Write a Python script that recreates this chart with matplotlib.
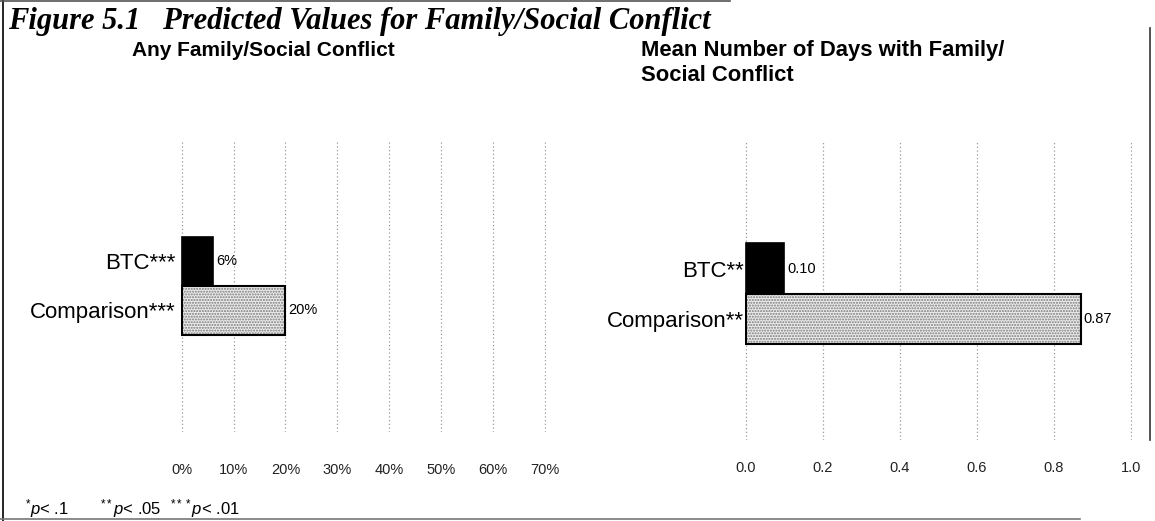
import matplotlib
matplotlib.use("Agg")
import matplotlib.pyplot as plt
from matplotlib.lines import Line2D

plt.rcParams['font.family'] = ['Liberation Sans', 'DejaVu Sans']
plt.rcParams['mathtext.fontset'] = 'custom'
plt.rcParams['mathtext.rm'] = 'Liberation Sans'
plt.rcParams['mathtext.it'] = 'Liberation Sans:italic'

# data
groups = ['BTC', 'Comparison']
any_conflict = [0.06, 0.20]
any_stars = ['***', '***']
any_labels = ['6%', '20%']
mean_days = [0.10, 0.87]
mean_stars = ['**', '**']
mean_labels = ['0.10', '0.87']
any_ticks = [0.0, 0.1, 0.2, 0.3, 0.4, 0.5, 0.6, 0.7]
any_ticklabels = ['0%', '10%', '20%', '30%', '40%', '50%', '60%', '70%']
mean_ticks = [0.0, 0.2, 0.4, 0.6, 0.8, 1.0]
mean_ticklabels = ['0.0', '0.2', '0.4', '0.6', '0.8', '1.0']

W, H = 1155, 521
fig = plt.figure(figsize=(W / 100, H / 100), dpi=100)


def box(x0, y0, x1, y1):
    # pixel box (top-left origin) -> figure fraction
    return [x0 / W, 1 - y1 / H, (x1 - x0) / W, (y1 - y0) / H]


def panel(rect, vals, stars, labels, ticks, ticklabels, ylim, pad, ypad):
    ax = fig.add_axes(rect)
    ypos = list(range(len(vals)))
    for y, v in zip(ypos, vals):
        if y == 0:
            ax.barh(y, v, height=1.0, color='black', edgecolor='black', lw=1.2)
        else:
            ax.barh(y, v, height=1.0, color='#ececec', edgecolor='#7a7a7a',
                    hatch='......', lw=0)
            ax.barh(y, v, height=1.0, fill=False, edgecolor='black', lw=1.5)
    for y, v, t in zip(ypos, vals, labels):
        ax.text(v + ticks[-1] * 0.008, y, t, va='center', ha='left', fontsize=10.5)
    ax.set_xlim(-ticks[-1] * 0.002, ticks[-1] * 1.003)
    ax.set_ylim(*ylim)
    ax.set_yticks(ypos)
    ax.set_yticklabels([g + s for g, s in zip(groups, stars)], fontsize=16)
    ax.set_xticks(ticks)
    ax.set_xticklabels(ticklabels, fontsize=10.5, color='#222222')
    ax.tick_params(axis='both', length=0)
    ax.tick_params(axis='x', pad=pad)
    ax.tick_params(axis='y', pad=ypad)
    ax.xaxis.grid(True, linestyle=(0, (1, 2)), color='#9a9a9a', lw=0.9)
    ax.set_axisbelow(True)
    for s in ax.spines.values():
        s.set_visible(False)
    return ax


panel(box(181, 142, 546, 432), any_conflict, any_stars, any_labels,
      any_ticks, any_ticklabels, (3.49, -2.43), 22, 4)
panel(box(745, 140, 1132, 440), mean_days, mean_stars, mean_labels,
      mean_ticks, mean_ticklabels, (3.40, -2.55), 15, 1)

# titles
fig.text(8 / W, 1 - 22 / H, 'Figure 5.1   Predicted Values for Family/Social Conflict',
         family='Liberation Serif', style='italic', weight='bold', fontsize=22,
         va='center', ha='left')
fig.text(263 / W, 1 - 50 / H, 'Any Family/Social Conflict', weight='bold',
         fontsize=15, va='center', ha='center')
fig.text(641 / W, 1 - 63 / H, 'Mean Number of Days with Family/\nSocial Conflict',
         weight='bold', fontsize=15.8, va='center', ha='left', linespacing=1.22)

# significance note
fig.text(25 / W, 1 - 509 / H, r'$^{*}\mathit{p}$< .1', fontsize=12, va='center')
fig.text(100 / W, 1 - 509 / H, r'$^{**}\mathit{p}$< .05', fontsize=12, va='center')
fig.text(170 / W, 1 - 509 / H, r'$^{***}\mathit{p}$< .01', fontsize=12, va='center')

# frame
for (x0, y0, x1, y1, c) in [(3, 0, 3, 521, 'black'), (0, 1, 730, 1, '#555555'),
                            (1150, 28, 1150, 440, '#333333'),
                            (0, 519, 1080, 519, '#777777')]:
    fig.add_artist(Line2D([x0 / W, x1 / W], [1 - y0 / H, 1 - y1 / H],
                          color=c, lw=1.2))

fig.savefig('out.png', dpi=100)
